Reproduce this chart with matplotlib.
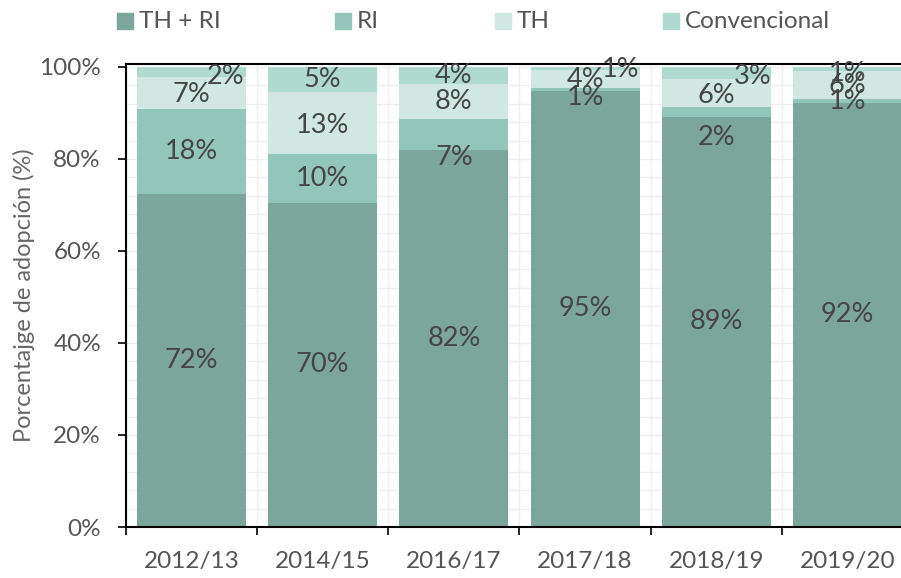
import numpy as np
import matplotlib
matplotlib.use("Agg")
import matplotlib.pyplot as plt
from matplotlib.ticker import MultipleLocator, FixedLocator
from matplotlib.patches import Rectangle

plt.rcParams['font.family'] = ['Lato', 'DejaVu Sans']

# data (shares in %)
years = ['2012/13', '2014/15', '2016/17', '2017/18', '2018/19', '2019/20']
th_ri = [72.4, 70.49, 82.0, 94.8, 89.2, 92.2]
ri = [18.5, 10.49, 6.8, 0.6, 2.0, 0.8]
th = [6.9, 13.49, 7.6, 3.9, 6.2, 6.1]
conv = [2.2, 5.49, 3.6, 0.7, 2.6, 0.9]

series = [('TH + RI', th_ri, '#7ba69b'),
          ('RI', ri, '#93c6ba'),
          ('TH', th, '#d0e8e1'),
          ('Convencional', conv, '#afdad0')]

# label nudges in pixels (dx right, dy down) to avoid overlaps
nudge = {
    'TH + RI': [(0, 0)] * 6,
    'RI': [(0, 0), (0, 0), (0, 23), (0, 8), (0, 25), (0, 0)],
    'TH': [(0, 2), (0, 2), (0, 0), (0, 0), (0, 2), (0, 0)],
    'Convencional': [(34, 4), (0, 0), (0, 0), (35, 1), (36, 4), (0, 4)],
}

W, H = 901, 578
fig = plt.figure(figsize=(W / 100, H / 100), dpi=100)
# right edge of the axes runs past the figure, as in the original crop
ax = fig.add_axes([126 / W, (H - 527) / H, 787 / W, (527 - 64) / H])

x = np.arange(len(years))
bottom = np.zeros(len(years))
for name, vals, col in series:
    vals = np.array(vals)
    ax.bar(x, vals, 0.83, bottom=bottom, color=col, zorder=2)
    for i, v in enumerate(vals):
        dx, dy = nudge[name][i]
        ax.annotate(f'{round(v):.0f}%', (x[i], bottom[i] + v / 2),
                    xytext=(dx * 0.72, -dy * 0.72), textcoords='offset points',
                    ha='center', va='center', fontsize=19.5, color='#454545',
                    zorder=3)
    bottom += vals

ax.set_xlim(-0.5, 5.5)
ax.set_ylim(0, 100.65)

ax.yaxis.set_major_locator(MultipleLocator(20))
ax.yaxis.set_minor_locator(MultipleLocator(4))
ax.set_yticklabels([f'{int(t)}%' for t in ax.get_yticks()])
ax.xaxis.set_major_locator(FixedLocator(np.arange(-0.5, 6, 1)))
ax.xaxis.set_major_formatter(plt.NullFormatter())
ax.set_xticks(x, minor=True)
ax.set_xticklabels(years, minor=True)

ax.tick_params(axis='x', which='major', length=6, width=1.2, color='black')
ax.tick_params(axis='x', which='minor', length=0, pad=17, labelsize=17.5,
               labelcolor='#555555')
ax.tick_params(axis='y', which='major', length=6, width=1.2, color='black',
               labelsize=17.5, labelcolor='#555555', pad=12)
ax.tick_params(axis='y', which='minor', length=0)

ax.grid(True, which='both', axis='y', color='#efefef', lw=1, zorder=0)
ax.grid(True, which='major', axis='x', color='#efefef', lw=1, zorder=0)
ax.set_axisbelow(True)

for s in ['left', 'bottom', 'top']:
    ax.spines[s].set_linewidth(1.5)
    ax.spines[s].set_color('black')
ax.spines['right'].set_visible(False)

ax.set_ylabel('Porcentajge de adopción (%)', fontsize=17, color='#666666')
ax.yaxis.set_label_coords(-91 / 787, 0.5)

# legend drawn by hand so the entries sit where the original has them
box_x = [117, 335, 495, 663]
for (name, _, col), bx in zip(series, box_x):
    fig.patches.append(Rectangle((bx / W, 1 - 29 / H), 16 / W, 16 / H,
                                 transform=fig.transFigure, color=col))
    fig.text((bx + 22) / W, 1 - 21 / H, name, ha='left', va='center',
             fontsize=17.5, color='#555555')

fig.savefig('out.png', dpi=100)
